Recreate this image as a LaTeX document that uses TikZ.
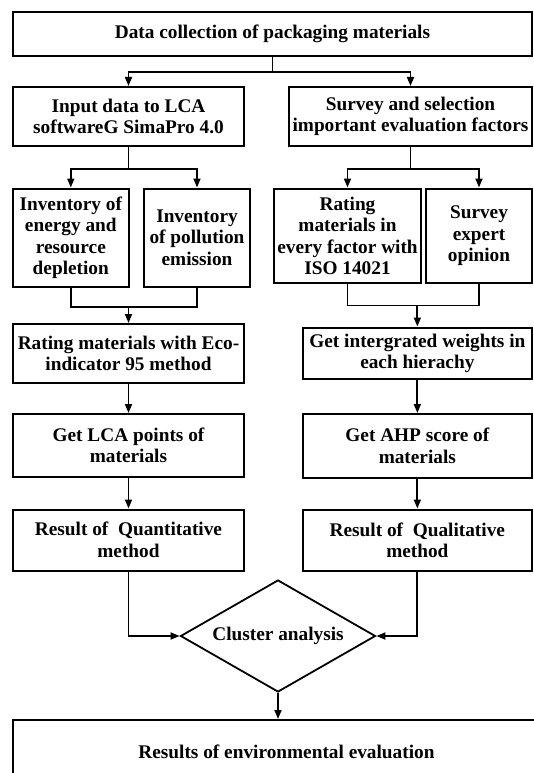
\documentclass[tikz,border=0pt]{standalone}
\usepackage{fontspec}
\setmainfont{Liberation Serif}
\usetikzlibrary{shapes,arrows.meta,calc}

\begin{document}
\begin{tikzpicture}[x=1pt,y=-1pt,
  box/.style={draw,line width=2pt,rectangle,align=center,inner sep=0pt,font=\bfseries\fontsize{19.3}{21.5}\selectfont},
  link/.style={line width=1.8pt},
  arrow/.style={line width=1.8pt,-{Triangle[length=9pt,width=7pt]}}]
\useasboundingbox (0,0) rectangle (533,773);
\fill[white] (0,0) rectangle (533,773);

\node[box,minimum width=519pt,minimum height=44pt] (data) at (272.5,34) {Data collection of packaging materials};

\node[box,minimum width=231pt,minimum height=59pt] (input) at (128.5,116.5) {Input data to LCA\\softwareG SimaPro 4.0};
\node[box,minimum width=243pt,minimum height=59pt] (survey) at (410.5,116.5) {Survey and selection\\important evaluation factors};

\node[box,minimum width=115.6pt,minimum height=98.5pt] (inven) at (70.8,237.75) {Inventory of\\energy and\\resource\\depletion};
\node[box,minimum width=106pt,minimum height=98.5pt] (invpol) at (197,237.75) {Inventory\\of pollution\\emission};
\node[box,minimum width=147pt,minimum height=94.5pt] (rateiso) at (347.5,235.75) {Rating\\materials in\\every factor with\\ISO 14021};
\node[box,minimum width=106pt,minimum height=94.5pt] (expert) at (479,235.75) {Survey\\expert\\opinion};

\node[box,minimum width=231pt,minimum height=59pt] (eco) at (128.5,353.5) {Rating materials with Eco-\\indicator 95 method};
\node[box,minimum width=229.3pt,minimum height=51.5pt] (weights) at (417.35,353.25) {Get intergrated weights in\\each hierachy};

\node[box,minimum width=231pt,minimum height=62.5pt] (lcapts) at (128.5,445.25) {Get LCA points of\\materials};
\node[box,minimum width=229.3pt,minimum height=64pt] (ahp) at (417.35,446) {Get AHP score of\\materials};

\node[box,minimum width=231pt,minimum height=61pt] (quant) at (128.5,540) {Result of~~Quantitative\\method};
\node[box,minimum width=229.3pt,minimum height=61.5pt] (qual) at (417.35,540.25) {Result of~~Qualitative\\method};

\node[box,diamond,line width=1.8pt,aspect=1.74,minimum width=195pt,minimum height=112pt] (cluster) at (278,636) {Cluster analysis};

\node[box,minimum width=547pt,minimum height=64pt] (result) at (286.5,752) {Results of environmental evaluation};

% split after data collection
\draw[link] (data.south) -- ++(0,15) coordinate (split1);
\draw[arrow] (split1) -| (input.north);
\draw[arrow] (split1) -| (survey.north);

% left branch
\draw[link] (input.south) -- ++(0,22) coordinate (split2);
\draw[arrow] (split2) -| (inven.north);
\draw[arrow] (split2) -| (invpol.north);
\coordinate (join1) at ($(eco.north)+(0,-16)$);
\draw[link] (inven.south) |- (join1) -| (invpol.south);
\draw[arrow] (join1) -- (eco.north);
\draw[arrow] (eco) -- (lcapts);
\draw[arrow] (lcapts) -- (quant);

% right branch
\draw[link] (survey.south) -- ++(0,22) coordinate (split3);
\draw[arrow] (split3) -| (rateiso.north);
\draw[arrow] (split3) -| (expert.north);
\coordinate (join2) at ($(weights.north)+(0,-21)$);
\draw[link] (rateiso.south) |- (join2) -| (expert.south);
\draw[arrow] (join2) -- (weights.north);
\draw[arrow] (weights) -- (ahp);
\draw[arrow] (ahp) -- (qual);

% merge
\draw[arrow] (quant.south) |- (cluster.west);
\draw[arrow] (qual.south) |- (cluster.east);
\draw[arrow] (cluster.south) -- (cluster.south |- result.north);
\end{tikzpicture}
\end{document}
